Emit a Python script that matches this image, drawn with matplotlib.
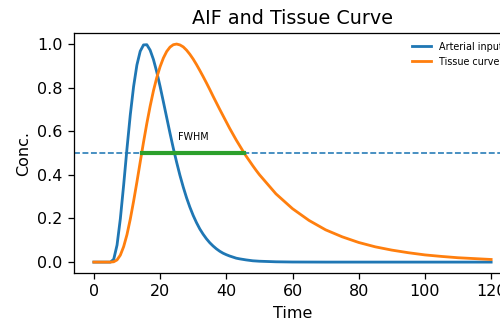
import matplotlib
matplotlib.use("Agg")
import matplotlib.pyplot as plt

# arterial input function
t_aif = [0, 2, 4, 5, 6, 7, 8, 9, 10, 11, 12, 13, 14, 15, 16, 17, 18, 19, 20,
         21, 22, 23, 24, 25, 26, 27, 28, 29, 30, 31, 32, 33, 34, 35, 36, 37,
         38, 39, 40, 41, 42, 43, 44, 46, 48, 50, 55, 60, 70, 80, 100, 120]
c_aif = [0, 0, 0, 0, 0.013, 0.078, 0.199, 0.354, 0.52, 0.675, 0.805, 0.904,
         0.967, 0.996, 0.997, 0.972, 0.929, 0.872, 0.806, 0.735, 0.663,
         0.591, 0.522, 0.458, 0.398, 0.344, 0.295, 0.252, 0.214, 0.181,
         0.152, 0.128, 0.107, 0.089, 0.074, 0.061, 0.05, 0.041, 0.034,
         0.028, 0.023, 0.018, 0.015, 0.01, 0.006, 0.004, 0.0014, 0.0004,
         0, 0, 0, 0]

# tissue curve
t_tis = [0, 2, 4, 5, 6, 7, 8, 9, 10, 11, 12, 13, 14, 15, 16, 17, 18, 19, 20,
         21, 22, 23, 24, 25, 26, 27, 28, 29, 30, 31, 32, 33, 34, 35, 36, 37,
         38, 39, 40, 41, 42, 43, 44, 45, 46, 47, 48, 49, 50, 55, 60, 65, 70,
         75, 80, 85, 90, 95, 100, 105, 110, 115, 120]
c_tis = [0, 0, 0, 0, 0.0015, 0.010, 0.032, 0.071, 0.126, 0.197, 0.279,
         0.367, 0.459, 0.550, 0.636, 0.715, 0.786, 0.846, 0.896, 0.936,
         0.966, 0.986, 0.997, 1.0, 0.996, 0.987, 0.972, 0.953, 0.931, 0.906,
         0.879, 0.851, 0.822, 0.792, 0.761, 0.731, 0.701, 0.672, 0.643,
         0.614, 0.587, 0.560, 0.535, 0.510, 0.486, 0.464, 0.442, 0.421,
         0.401, 0.313, 0.245, 0.191, 0.148, 0.116, 0.090, 0.070, 0.055,
         0.043, 0.033, 0.026, 0.020, 0.016, 0.012]

half_max = 0.5
fwhm_start, fwhm_end = 14.4, 45.4

dpi = 115
fig = plt.figure(figsize=(500 / dpi, 325 / dpi), dpi=dpi)
ax = fig.add_axes([0.148, 0.16, 0.874, 0.738])

ax.plot(t_aif, c_aif, lw=1.75, label="Arterial input")
ax.plot(t_tis, c_tis, lw=1.75, label="Tissue curve")
ax.axhline(half_max, ls="--", lw=1, color="C0")
ax.plot([fwhm_start, fwhm_end], [half_max, half_max], color="C2", lw=2.6)
ax.text((fwhm_start + fwhm_end) / 2, half_max + 0.05, "FWHM",
        ha="center", va="bottom", fontsize=6)

ax.set_xlim(-6, 126)
ax.set_ylim(-0.05, 1.05)
ax.set_xlabel("Time")
ax.set_ylabel("Conc.")
ax.set_title("AIF and Tissue Curve")
ax.legend(loc="upper right", fontsize=6, frameon=False)

fig.savefig("out.png", dpi=dpi)
